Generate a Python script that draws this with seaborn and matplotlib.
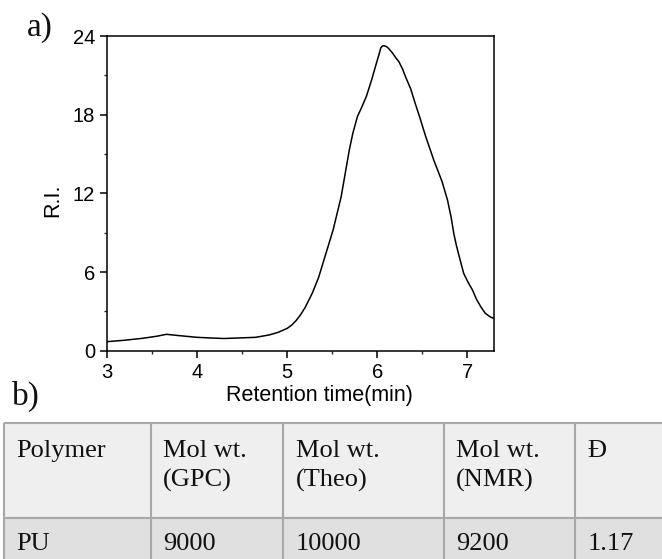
import matplotlib
matplotlib.use("Agg")
import matplotlib.pyplot as plt
import seaborn as sns
import pandas as pd
from matplotlib.patches import Rectangle
from matplotlib.ticker import MultipleLocator

# ---- data ----
retention_time = [3.00, 3.20, 3.40, 3.55, 3.66, 3.80, 4.00, 4.15, 4.30, 4.50, 4.65, 4.80,
                  4.90, 5.00, 5.05, 5.10, 5.15, 5.20, 5.28, 5.35, 5.43, 5.51, 5.60, 5.69,
                  5.73, 5.78, 5.83, 5.88, 5.94, 5.99, 6.02, 6.04, 6.06, 6.08, 6.10, 6.12,
                  6.17, 6.21, 6.24, 6.28, 6.32, 6.37, 6.42, 6.47, 6.54, 6.63, 6.72, 6.78,
                  6.82, 6.85, 6.88, 6.91, 6.96, 7.01, 7.06, 7.10, 7.15, 7.20, 7.25, 7.28, 7.30]
ri_signal = [0.69, 0.80, 0.95, 1.10, 1.25, 1.15, 1.02, 0.97, 0.93, 0.98, 1.02, 1.20,
             1.40, 1.70, 1.95, 2.30, 2.75, 3.30, 4.40, 5.60, 7.40, 9.20, 11.75, 15.30,
             16.60, 17.85, 18.60, 19.40, 20.70, 21.90, 22.60, 23.10, 23.25, 23.25, 23.20, 23.10,
             22.70, 22.30, 22.05, 21.50, 20.80, 20.00, 18.90, 17.85, 16.30, 14.50, 12.90, 11.50,
             10.20, 8.95, 8.00, 7.20, 5.90, 5.20, 4.60, 3.95, 3.35, 2.85, 2.60, 2.50, 2.45]
x_ticks = [3, 4, 5, 6, 7]
y_ticks = [0, 6, 12, 18, 24]

table_header_line1 = ["Polymer", "Mol wt.", "Mol wt.", "Mol wt.", "Đ"]
table_header_line2 = ["", "(GPC)", "(Theo)", "(NMR)", ""]
table_row = ["PU", "9000", "10000", "9200", "1.17"]

df = pd.DataFrame({"t": retention_time, "ri": ri_signal})

sns.set_theme(style="ticks")
plt.rcParams["font.family"] = ["Liberation Sans", "DejaVu Sans"]

W, H = 662, 559
fig = plt.figure(figsize=(W / 100, H / 100), dpi=100)

# ---- table background axes (pixel coords) ----
tab = fig.add_axes([0, 0, 1, 1], zorder=0)
tab.set_xlim(0, W)
tab.set_ylim(H, 0)
tab.axis("off")

col_x = [4, 150.7, 283.3, 443.7, 575.3]
top_y, mid_y = 423.3, 518.3
tab.add_patch(Rectangle((4, top_y), W + 10, mid_y - top_y, facecolor="#efefef", edgecolor="none"))
tab.add_patch(Rectangle((4, mid_y), W + 10, 60, facecolor="#e0e0e0", edgecolor="none"))
lc = "#a8a8a8"
for yv in (top_y, mid_y):
    tab.plot([4, W + 5], [yv, yv], color=lc, lw=1.5, solid_capstyle="butt")
for xv in col_x:
    tab.plot([xv, xv], [top_y, H + 5], color=lc, lw=1.5, solid_capstyle="butt")

serif = ["Liberation Serif", "DejaVu Serif"]
pad = 12.5
fs_tab = 19
for i, xv in enumerate(col_x):
    tab.text(xv + pad, 456.7, table_header_line1[i], fontsize=fs_tab, family=serif,
             ha="left", va="baseline", color="#111111")
    if table_header_line2[i]:
        tab.text(xv + pad, 486.7, table_header_line2[i], fontsize=fs_tab, family=serif,
                 ha="left", va="baseline", color="#111111")
    tab.text(xv + pad, 550, table_row[i], fontsize=fs_tab, family=serif,
             ha="left", va="baseline", color="#111111")

tab.text(27, 12, "a)", fontsize=24, family=serif, ha="left", va="top", color="#111111")
tab.text(11.5, 381, "b)", fontsize=24, family=serif, ha="left", va="top", color="#111111")

# ---- chart ----
left, right, top, bottom = 107, 494.3, 36, 350.7
ax = fig.add_axes([left / W, 1 - bottom / H, (right - left) / W, (bottom - top) / H], zorder=2)
sns.lineplot(data=df, x="t", y="ri", ax=ax, color="black", linewidth=1.1, sort=False)
ax.set_xlim(3, 7.3)
ax.set_ylim(0, 24)
ax.set_xticks(x_ticks)
ax.set_yticks(y_ticks)
ax.xaxis.set_minor_locator(MultipleLocator(0.5))
ax.yaxis.set_minor_locator(MultipleLocator(3))
for s in ax.spines.values():
    s.set_visible(True)
    s.set_linewidth(1.1)
    s.set_color("black")
ax.tick_params(which="major", direction="out", length=5, width=1.1, labelsize=14.5,
               colors="black", pad=3.5, top=False, right=False)
ax.tick_params(which="minor", direction="out", length=2.5, width=1.0, top=False, right=False)
ax.set_xlabel("Retention time(min)", fontsize=15.5, color="black")
ax.set_ylabel("R.I.", fontsize=15.5, color="black")
ax.xaxis.set_label_coords(0.549, -0.108)
ax.xaxis.label.set_va("top")
ax.yaxis.set_label_coords(-0.112, 0.479)

fig.savefig("out.png", dpi=100)
